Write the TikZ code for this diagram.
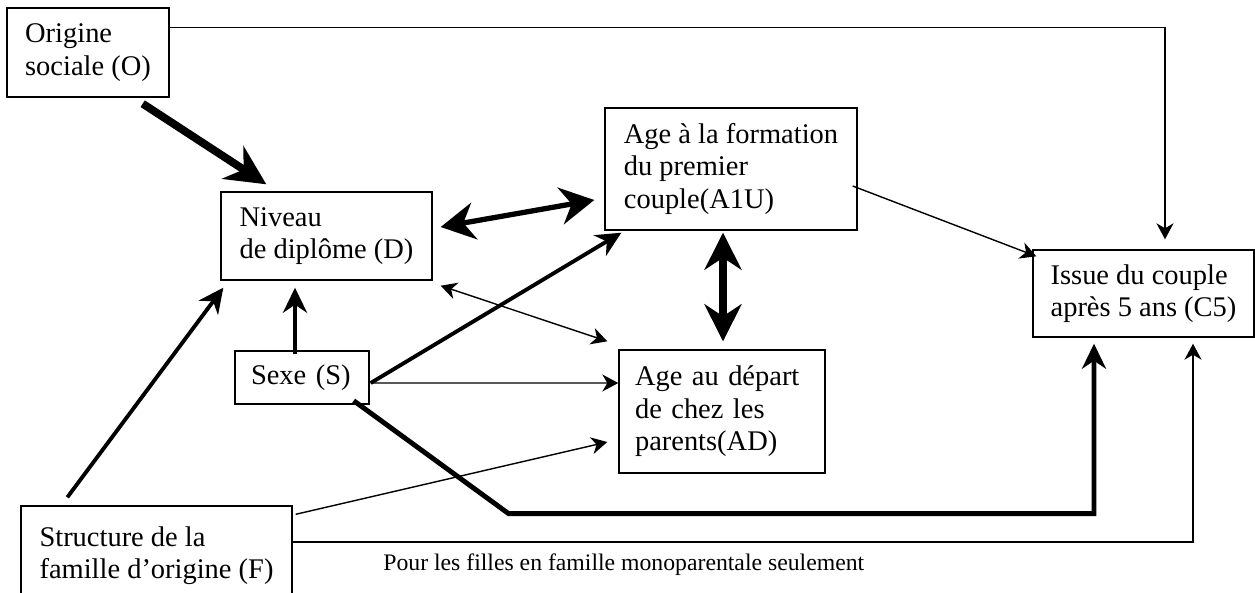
\documentclass[tikz,border=0pt]{standalone}
\usepackage{fontspec}
\setmainfont{Liberation Serif}
\usetikzlibrary{arrows.meta, calc}

\begin{document}
\begin{tikzpicture}[x=0.02cm, y=-0.02cm,
    factor/.style={rectangle, draw, line width=0.8pt, inner xsep=0.32cm, inner ysep=2pt,
                   align=left, font=\fontsize{16.2}{18.5}\selectfont},
    note/.style={inner sep=0pt, font=\fontsize{13.5}{16}\selectfont},
    link/.style={-{Stealth[length=0.32cm, width=0.34cm, inset=0.1cm]}, line width=0.8pt},
    link both/.style={{Stealth[length=0.32cm, width=0.34cm, inset=0.1cm]}-{Stealth[length=0.32cm, width=0.34cm, inset=0.1cm]}, line width=0.8pt},
    strong link/.style={-{Stealth[length=0.5cm, width=0.48cm, inset=0.16cm]}, line width=2.2pt},
    bold both/.style={{Stealth[length=0.68cm, width=0.74cm, inset=0.22cm]}-{Stealth[length=0.68cm, width=0.74cm, inset=0.22cm]}, line width=3pt},
    heavy link/.style={-{Stealth[length=0.8cm, width=0.78cm, inset=0.26cm]}, line width=4.5pt},
    heavy both/.style={{Stealth[length=0.74cm, width=0.74cm, inset=0.24cm]}-{Stealth[length=0.74cm, width=0.74cm, inset=0.24cm]}, line width=4.5pt},
]

    \useasboundingbox (0,0) rectangle (1255,592);
    \clip (0,0) rectangle (1255,592);

    % ── Boxes ──
    \node[factor, minimum width=3.24cm, minimum height=1.78cm] (O) at (88,52.5) {Origine\\sociale (O)};
    \node[factor, minimum width=4.22cm, minimum height=1.76cm] (D) at (326.5,236) {Niveau\\de diplôme (D)};
    \node[factor, minimum width=5.04cm, minimum height=2.44cm] (A1U) at (731,169) {Age à la formation\\du premier\\couple(A1U)};
    \node[factor, minimum width=4.42cm, minimum height=1.74cm] (C5) at (1143.5,293.5) {Issue du couple\\après 5 ans (C5)};
    \node[factor, minimum width=2.68cm, minimum height=1.06cm, text width=2.04cm] (S) at (302,377.5) {Sexe (S)};
    \node[factor, minimum width=4.12cm, minimum height=2.46cm, text width=3.48cm] (AD) at (722,411.5) {Age au départ\\de chez les\\parents(AD)};
    \node[factor, minimum width=5.42cm, minimum height=1.98cm] (F) at (156.5,555.5) {Structure de la\\famille d’origine (F)};

    \node[note, anchor=base west] (only) at (383,570) {Pour les filles en famille monoparentale seulement};

    % ── Links ──
    \draw[link] ($(O.north east)+(0,20)$) -| ($(C5.north)+(21.5,-10)$);
    \draw[heavy link] ($(O.south east)+(-27,6)$) -- ($(D.north west)+(46,-7)$);
    \draw[bold both] ($(D.east)+(8,-9)$) -- ($(A1U.west)+(-10,31)$);
    \draw[heavy both] ($(A1U.south)+(-8,2)$) -- ($(AD.north)+(1,-8)$);
    \draw[link both] ($(D.south east)+(8,5)$) -- ($(AD.north west)+(-11,-8)$);
    \draw[link] ($(A1U.east)+(-5,17)$) -- ($(C5.north west)+(4,7)$);

    \draw[strong link] ($(S.north)+(-7,4)$) -- ($(D.south)+(-31.5,7)$);
    \draw[strong link] ($(F.north west)+(47,-8)$) -- ($(D.south west)+(3,7)$);
    \draw[strong link] ($(S.east)+(1,5.5)$) -- ($(A1U.south west)+(17,2)$);
    \draw[link] ($(S.east)+(1,5.5)$) -- ($(AD.west)+(0,-28.5)$);
    \draw[link] ($(F.north east)+(3,9)$) -- ($(AD.west)+(-11,30.5)$);

    \draw[strong link, line width=2.8pt] ($(S.south east)+(-16,-4)$) -- ++(155,113) -| ($(C5.south)+(-49.5,6)$);
    \draw[link] ($(F.east)+(0,-13.5)$) -| ($(C5.south)+(49.5,6)$);

\end{tikzpicture}
\end{document}
